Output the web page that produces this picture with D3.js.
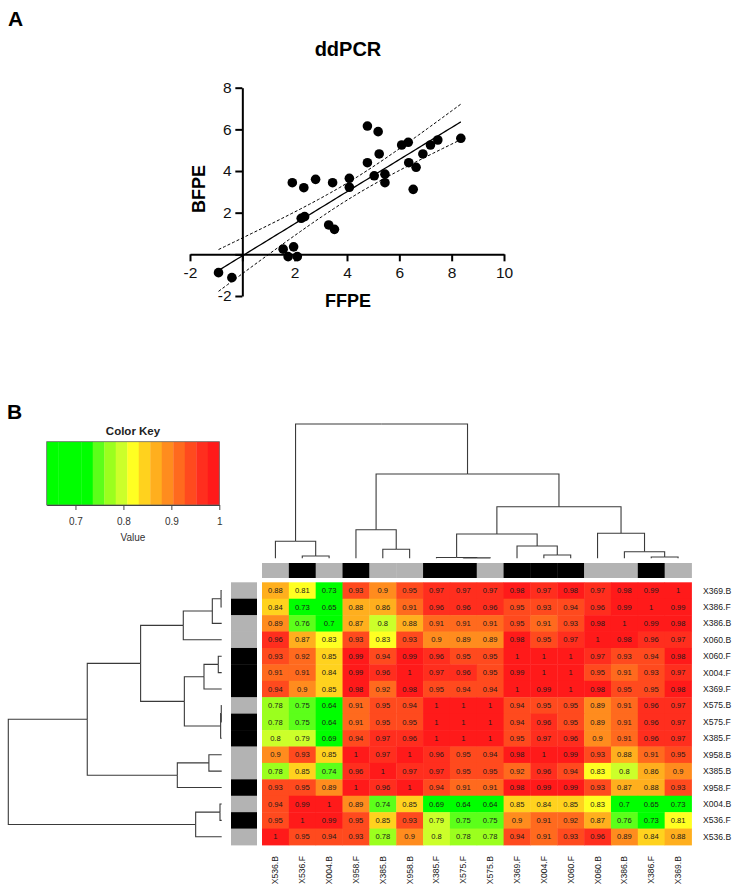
<!DOCTYPE html>
<html>
<head>
<meta charset="utf-8">
<script src="https://cdn.jsdelivr.net/npm/d3@7"></script>
<style>
  body { margin: 0; background: #fff; }
  text { font-family: "Liberation Sans", Arial, sans-serif; }
</style>
</head>
<body>
<div id="viz"></div>
<script>
// ---- panel A data: FFPE vs BFPE (ddPCR) ----
const ffpe = [-0.91, -0.40, 1.56, 1.96, 1.75, 2.10, 1.91, 2.35, 2.80, 2.25, 2.38, 3.30, 3.52, 3.45,
  4.09, 4.09, 4.78, 5.19, 4.78, 5.23, 5.04, 5.45, 5.45, 6.09, 6.34, 6.36, 6.64, 6.53, 6.90, 7.19, 7.47, 8.35];
const bfpe = [-0.88, -1.12, 0.25, 0.36, -0.11, -0.11, 3.44, 3.20, 3.60, 1.73, 1.81, 1.41, 1.20, 3.44,
  3.65, 3.22, 6.16, 5.89, 4.40, 4.82, 3.77, 3.85, 3.44, 5.25, 5.38, 4.40, 4.18, 3.12, 4.82, 5.25, 5.49, 5.57];
const xTicks = [-2, 0, 2, 4, 6, 8, 10];
const yTicks = [-2, 0, 2, 4, 6, 8];

// ---- panel B data: correlation heatmap ----
const colLabels = ["X536.B","X536.F","X004.B","X958.F","X385.B","X958.B","X385.F","X575.F",
  "X575.B","X369.F","X004.F","X060.F","X060.B","X386.B","X386.F","X369.B"];
const rowLabels = ["X369.B","X386.F","X386.B","X060.B","X060.F","X004.F","X369.F","X575.B",
  "X575.F","X385.F","X958.B","X385.B","X958.F","X004.B","X536.F","X536.B"];
const values = [
  [0.88,0.81,0.73,0.93,0.9,0.95,0.97,0.97,0.97,0.98,0.97,0.98,0.97,0.98,0.99,1],
  [0.84,0.73,0.65,0.88,0.86,0.91,0.96,0.96,0.96,0.95,0.93,0.94,0.96,0.99,1,0.99],
  [0.89,0.76,0.7,0.87,0.8,0.88,0.91,0.91,0.91,0.95,0.91,0.93,0.98,1,0.99,0.98],
  [0.96,0.87,0.83,0.93,0.83,0.93,0.9,0.89,0.89,0.98,0.95,0.97,1,0.98,0.96,0.97],
  [0.93,0.92,0.85,0.99,0.94,0.99,0.96,0.95,0.95,1,1,1,0.97,0.93,0.94,0.98],
  [0.91,0.91,0.84,0.99,0.96,1,0.97,0.96,0.95,0.99,1,1,0.95,0.91,0.93,0.97],
  [0.94,0.9,0.85,0.98,0.92,0.98,0.95,0.94,0.94,1,0.99,1,0.98,0.95,0.95,0.98],
  [0.78,0.75,0.64,0.91,0.95,0.94,1,1,1,0.94,0.95,0.95,0.89,0.91,0.96,0.97],
  [0.78,0.75,0.64,0.91,0.95,0.95,1,1,1,0.94,0.96,0.95,0.89,0.91,0.96,0.97],
  [0.8,0.79,0.69,0.94,0.97,0.96,1,1,1,0.95,0.97,0.96,0.9,0.91,0.96,0.97],
  [0.9,0.93,0.85,1,0.97,1,0.96,0.95,0.94,0.98,1,0.99,0.93,0.88,0.91,0.95],
  [0.78,0.85,0.74,0.96,1,0.97,0.97,0.95,0.95,0.92,0.96,0.94,0.83,0.8,0.86,0.9],
  [0.93,0.95,0.89,1,0.96,1,0.94,0.91,0.91,0.98,0.99,0.99,0.93,0.87,0.88,0.93],
  [0.94,0.99,1,0.89,0.74,0.85,0.69,0.64,0.64,0.85,0.84,0.85,0.83,0.7,0.65,0.73],
  [0.95,1,0.99,0.95,0.85,0.93,0.79,0.75,0.75,0.9,0.91,0.92,0.87,0.76,0.73,0.81],
  [1,0.95,0.94,0.93,0.78,0.9,0.8,0.78,0.78,0.94,0.91,0.93,0.96,0.89,0.84,0.88]
];
// hclust style merges: negative = leaf (1-based, display order), positive = earlier merge
const colMerge = [[-8,-9],[-7,1],[-15,-16],[-2,-3],[-11,-12],[-14,3],[-5,-6],[-10,5],
  [-1,4],[2,8],[-13,6],[-4,7],[10,11],[12,13],[9,14]];
const colHeights = [0.003,0.006,0.010,0.017,0.025,0.049,0.067,0.092,0.127,0.181,0.186,0.213,0.384,0.628,1];
const rowMerge = [[-8,-9],[-1,-2],[1,-10],[-14,-15],[-5,-6],[2,-3],[-11,-12],[5,-7],
  [4,-16],[8,3],[6,-4],[7,-13],[11,10],[13,12],[14,9]];
const rowHeights = [0.002,0.003,0.005,0.008,0.016,0.044,0.06,0.083,0.122,0.175,0.18,0.208,0.38,0.63,1];
const keyTicks = [0.7, 0.8, 0.9, 1];

const palette = ["#00ff00","#00ff00","#00ff00","#00ff00","#5cff1a","#9bff1e","#ccff2a","#ffff22",
  "#ffd21e","#ffaf1e","#ff8c1e","#ff6a1e","#ff4a1e","#ff2e1e","#ff1a1a"];
const keyMin = 0.64, keyMax = 1;
const breaks = d3.range(16).map(i => +(keyMin + i * (keyMax - keyMin) / 15).toFixed(3));
const colorOf = v => palette[Math.max(0, Math.min(14, d3.bisectLeft(breaks, v) - 1))];

const svg = d3.select("#viz").append("svg").attr("width", 736).attr("height", 891);
svg.append("rect").attr("width", 736).attr("height", 891).attr("fill", "#fff");

svg.append("text").attr("x", 8).attr("y", 26).attr("font-size", 21).attr("font-weight", "bold").text("A");
svg.append("text").attr("x", 7).attr("y", 419).attr("font-size", 21).attr("font-weight", "bold").text("B");

// ================= Panel A =================
const x = d3.scaleLinear().domain([-2, 10]).range([190, 504]);
const y = d3.scaleLinear().domain([-2, 8]).range([296, 87.7]);

const gA = svg.append("g");
gA.append("text").attr("x", 348).attr("y", 56).attr("text-anchor", "middle")
  .attr("font-size", 20).attr("font-weight", "bold").text("ddPCR");

const xAxis = gA.append("g").attr("transform", `translate(0,${y(0)})`)
  .call(d3.axisBottom(x).tickValues(xTicks).tickSize(7).tickSizeOuter(0)
    .tickFormat(d => d === 0 ? "" : d));
const yAxis = gA.append("g").attr("transform", `translate(${x(0)},0)`)
  .call(d3.axisLeft(y).tickValues(yTicks).tickSize(7).tickSizeOuter(0)
    .tickFormat(d => d === 0 ? "" : d));
[xAxis, yAxis].forEach(a => {
  a.selectAll("path, line").attr("stroke", "#000").attr("stroke-width", 2);
  a.selectAll("text").attr("font-size", 15.5).attr("fill", "#111")
    .attr("font-family", "'Liberation Sans', Arial, sans-serif");
});
xAxis.selectAll("text").attr("dy", "0.9em");
yAxis.selectAll("text").attr("dx", "-0.05em");

gA.append("text").attr("transform", "translate(205,189) rotate(-90)").attr("text-anchor", "middle")
  .attr("font-size", 18).attr("font-weight", "bold").text("BFPE");
gA.append("text").attr("x", 348).attr("y", 307).attr("text-anchor", "middle")
  .attr("font-size", 18).attr("font-weight", "bold").text("FFPE");

// linear fit with 95% confidence band
const n = ffpe.length;
const mx = d3.mean(ffpe), my = d3.mean(bfpe);
const sxx = d3.sum(ffpe, v => (v - mx) ** 2);
const sxy = d3.sum(ffpe, (v, i) => (v - mx) * (bfpe[i] - my));
const slope = sxy / sxx, icpt = my - slope * mx;
const se = Math.sqrt(d3.sum(ffpe, (v, i) => (bfpe[i] - icpt - slope * v) ** 2) / (n - 2));
const tval = 2.042;
const xs = d3.range(81).map(i => d3.min(ffpe) + i * (d3.max(ffpe) - d3.min(ffpe)) / 80);
const band = s => xs.map(v => [v, icpt + slope * v + s * tval * se * Math.sqrt(1 / n + (v - mx) ** 2 / sxx)]);
const line = d3.line().x(d => x(d[0])).y(d => y(d[1]));

gA.append("path").attr("d", line(band(0))).attr("fill", "none").attr("stroke", "#000").attr("stroke-width", 1.3);
[1, -1].forEach(s => gA.append("path").attr("d", line(band(s))).attr("fill", "none")
  .attr("stroke", "#000").attr("stroke-width", 1).attr("stroke-dasharray", "3,2"));

gA.append("g").selectAll("circle").data(ffpe).enter().append("circle")
  .attr("cx", d => x(d)).attr("cy", (d, i) => y(bfpe[i])).attr("r", 4.8).attr("fill", "#000");

// ================= Panel B =================
const colX = d3.scaleBand().domain(colLabels).range([262, 691.5]);
const rowY = d3.scaleBand().domain(rowLabels).range([582.3, 845]);

// heatmap cells
const cells = [];
values.forEach((r, i) => r.forEach((v, j) => cells.push({ row: rowLabels[i], col: colLabels[j], v })));
const gH = svg.append("g");
gH.selectAll("rect").data(cells).enter().append("rect")
  .attr("x", d => colX(d.col)).attr("y", d => rowY(d.row))
  .attr("width", colX.bandwidth() + 0.4).attr("height", rowY.bandwidth() + 0.4)
  .attr("fill", d => colorOf(d.v));
gH.selectAll("text").data(cells).enter().append("text")
  .attr("x", d => colX(d.col) + colX.bandwidth() / 2)
  .attr("y", d => rowY(d.row) + rowY.bandwidth() / 2)
  .attr("dy", "0.35em").attr("text-anchor", "middle")
  .attr("font-size", 7.6).attr("fill", "#1a1a1a").text(d => d.v);

// side colour bars (.F black, .B grey)
const sideColor = lab => lab.endsWith(".F") ? "#000" : "#b3b3b3";
svg.append("g").selectAll("rect").data(colLabels).enter().append("rect")
  .attr("x", d => colX(d)).attr("y", 563).attr("width", colX.bandwidth() + 0.4).attr("height", 15)
  .attr("fill", sideColor);
svg.append("g").selectAll("rect").data(rowLabels).enter().append("rect")
  .attr("x", 231).attr("y", d => rowY(d)).attr("width", 26).attr("height", rowY.bandwidth() + 0.4)
  .attr("fill", sideColor);

// labels
svg.append("g").selectAll("text").data(rowLabels).enter().append("text")
  .attr("x", 703).attr("y", d => rowY(d) + rowY.bandwidth() / 2).attr("dy", "0.35em")
  .attr("font-size", 8.6).attr("fill", "#222").text(d => d);
svg.append("g").selectAll("text").data(colLabels).enter().append("text")
  .attr("transform", d => `translate(${colX(d) + colX.bandwidth() / 2 + 3},856) rotate(-90)`)
  .attr("text-anchor", "end").attr("font-size", 8.6).attr("fill", "#222").text(d => d);

// dendrograms
function buildTree(merge, heights) {
  const nodes = [];
  merge.forEach((m, i) => {
    nodes.push({ h: heights[i], children: m.map(k => k < 0 ? { leaf: -k - 1, h: 0 } : nodes[k - 1]) });
  });
  return d3.hierarchy(nodes[nodes.length - 1]);
}
function drawDendro(merge, heights, leafPos, hScale, vertical) {
  const root = buildTree(merge, heights);
  root.eachAfter(nd => {
    nd.pos = nd.children ? d3.mean(nd.children, c => c.pos) : leafPos(nd.data.leaf);
  });
  const segs = root.descendants().filter(nd => nd.parent);
  const path = nd => vertical
    ? `M${nd.pos},${hScale(nd.data.h)}V${hScale(nd.parent.data.h)}H${nd.parent.pos}`
    : `M${hScale(nd.data.h)},${nd.pos}H${hScale(nd.parent.data.h)}V${nd.parent.pos}`;
  svg.append("g").selectAll("path").data(segs).enter().append("path")
    .attr("d", path).attr("fill", "none").attr("stroke", "#3a3a3a").attr("stroke-width", 1.1);
}
drawDendro(colMerge, colHeights, i => colX(colLabels[i]) + colX.bandwidth() / 2,
  d3.scaleLinear().domain([0, 1]).range([558.3, 424]), true);
drawDendro(rowMerge, rowHeights, i => rowY(rowLabels[i]) + rowY.bandwidth() / 2,
  d3.scaleLinear().domain([0, 1]).range([221.7, 8.3]), false);

// colour key
const kx = d3.scaleLinear().domain([keyMin, keyMax]).range([46.7, 219.3]);
const gK = svg.append("g");
gK.append("text").attr("x", 133).attr("y", 435).attr("text-anchor", "middle")
  .attr("font-size", 11.5).attr("font-weight", "bold").attr("fill", "#222").text("Color Key");
gK.selectAll("rect").data(palette).enter().append("rect")
  .attr("x", (d, i) => kx(breaks[i])).attr("y", 441.7)
  .attr("width", (d, i) => kx(breaks[i + 1]) - kx(breaks[i]) + 0.3).attr("height", 63.3)
  .attr("fill", d => d);
gK.append("rect").attr("x", kx(keyMin)).attr("y", 441.7).attr("width", kx(keyMax) - kx(keyMin))
  .attr("height", 63.3).attr("fill", "none").attr("stroke", "#666").attr("stroke-width", 0.8);
const kAxis = gK.append("g").attr("transform", "translate(0,505)")
  .call(d3.axisBottom(kx).tickValues(keyTicks).tickSize(5).tickSizeOuter(0).tickFormat(d3.format("")));
kAxis.select(".domain").attr("stroke", "#444");
kAxis.selectAll("line").attr("stroke", "#444");
kAxis.selectAll("text").attr("font-size", 10).attr("fill", "#333").attr("dy", "1.2em")
  .attr("font-family", "'Liberation Sans', Arial, sans-serif");
gK.append("text").attr("x", 133).attr("y", 541).attr("text-anchor", "middle")
  .attr("font-size", 10).attr("fill", "#333").text("Value");
</script>
</body>
</html>
